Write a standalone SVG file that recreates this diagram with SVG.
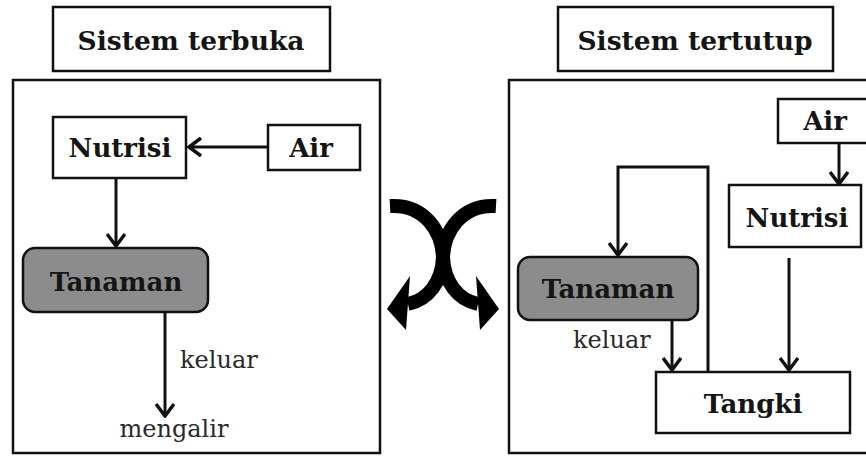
<svg xmlns="http://www.w3.org/2000/svg" width="866" height="461" viewBox="0 0 866 461">
<style>
.box{fill:#fff;stroke:#111;stroke-width:2.5}
.plant{fill:#8c8c8c;stroke:#111;stroke-width:2.5}
.t{font-family:"DejaVu Serif","Liberation Serif",serif;font-weight:bold;fill:#151515;text-anchor:middle;font-size:26px}
.tt{font-size:26.5px}
.lbl{font-family:"DejaVu Serif","Liberation Serif",serif;fill:#2a2a2a;font-size:24px}
.ln{fill:none;stroke:#111;stroke-width:3}
.big{fill:none;stroke:#000;stroke-width:14}
</style>
<defs>
<marker id="arr" viewBox="0 0 16 20" refX="14" refY="10" markerWidth="16" markerHeight="20" orient="auto" markerUnits="userSpaceOnUse">
<path d="M2,1 L14,10 L2,19" fill="none" stroke="#111" stroke-width="3.5"/>
</marker>
</defs>
<rect width="866" height="461" fill="#fff"/>
<g id="title-left"><rect class="box" x="53" y="7" width="277" height="64"/><text class="t tt" x="191" y="50">Sistem terbuka</text></g>
<g id="title-right"><rect class="box" x="558" y="7" width="275" height="64"/><text class="t tt" x="695" y="50">Sistem tertutup</text></g>
<g id="panel-left"><rect class="box" x="13" y="80" width="367" height="373"/></g>
<g id="panel-right"><rect class="box" x="509" y="80" width="370" height="373"/></g>
<g id="l-nutrisi"><rect class="box" x="53" y="117" width="133" height="61"/><text class="t" x="120" y="157">Nutrisi</text></g>
<g id="l-air"><rect class="box" x="268" y="125" width="92" height="45"/><text class="t" x="311" y="157">Air</text></g>
<g id="l-tanaman"><rect class="plant" x="23" y="248" width="185" height="64" rx="12"/><text class="t" x="116" y="291">Tanaman</text></g>
<g id="l-mengalir"><text class="lbl" x="174" y="437" text-anchor="middle">mengalir</text></g>
<g id="r-air"><rect class="box" x="778" y="99" width="100" height="44"/><text class="t" x="825" y="130">Air</text></g>
<g id="r-nutrisi"><rect class="box" x="729" y="185" width="132" height="62"/><text class="t" x="797" y="227">Nutrisi</text></g>
<g id="r-tanaman"><rect class="plant" x="518" y="257" width="180" height="63" rx="12"/><text class="t" x="608" y="298">Tanaman</text></g>
<g id="r-tangki"><rect class="box" x="656" y="372" width="194" height="61"/><text class="t" x="753" y="413">Tangki</text></g>
<g id="connectors">
<line class="ln" x1="268" y1="147" x2="189" y2="147" marker-end="url(#arr)"/>
<line class="ln" x1="116" y1="178" x2="116" y2="246" marker-end="url(#arr)"/>
<line class="ln" x1="165" y1="312" x2="165" y2="416" marker-end="url(#arr)"/>
<text class="lbl" x="180" y="368">keluar</text>
<line class="ln" x1="839" y1="143" x2="839" y2="184" marker-end="url(#arr)"/>
<path class="ln" d="M708,372 V167 H618 V255" marker-end="url(#arr)"/>
<line class="ln" x1="672" y1="320" x2="672" y2="370" marker-end="url(#arr)"/>
<text class="lbl" x="573" y="348">keluar</text>
<line class="ln" x1="789" y1="258" x2="789" y2="370" marker-end="url(#arr)"/>
</g>
<g id="swap-arrows">
<path class="big" d="M390,206 C425,204 442,232 443,257 C444,282 458,300 478,304"/>
<polygon points="476,276 499,309 480,330" fill="#000"/>
<path class="big" d="M496,206 C461,204 444,232 443,257 C442,282 428,300 408,304"/>
<polygon points="410,276 387,309 406,330" fill="#000"/>
</g>
</svg>
